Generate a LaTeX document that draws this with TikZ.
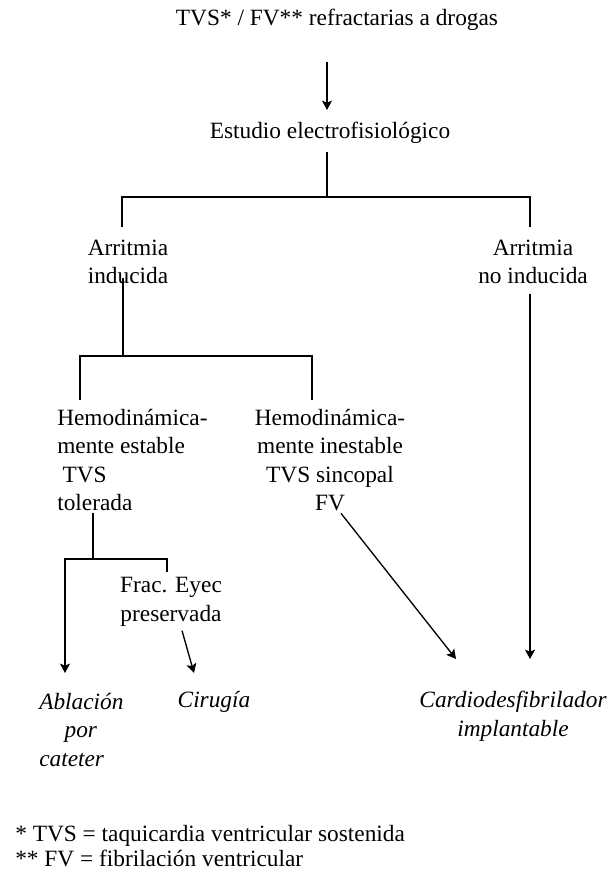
\documentclass[tikz,border=0pt]{standalone}
\usepackage{fontspec}
\setmainfont{Liberation Serif}
\usetikzlibrary{arrows.meta}
\usetikzlibrary{calc}

\tikzset{
  txt/.style={inner sep=0pt, align=center, font=\fontsize{17.5}{21.4}\selectfont},
  ital/.style={txt, font=\fontsize{17.5}{21.4}\selectfont\itshape},
  conn/.style={line width=1pt},
  arr/.style={conn, -{Stealth[length=7pt,width=7.5pt,inset=1.5pt]}},
}

\begin{document}
\begin{tikzpicture}[x=0.75pt,y=0.75pt,yscale=-1,xscale=1]
\useasboundingbox (0,0) rectangle (610,884);

% Text Node
\node[txt] (title) at (337,20) {TVS* / FV** refractarias a drogas};
% Text Node
\node[txt] (est) at (330,133) {Estudio electrofisiológico};
% Text Node
\node[txt] (ind) at (128,262) {Arritmia\\inducida};
% Text Node
\node[txt] (noind) at (533,262) {Arritmia\\no inducida};
% Text Node
\node[txt, anchor=west, align=left] (estable) at (57,460) {Hemodinámica-\\mente estable\\\hspace*{4pt}TVS\\tolerada};
% Text Node
\node[txt] (inestable) at (330,460) {Hemodinámica-\\mente inestable\\TVS sincopal\\FV};
% Text Node
\node[txt] (frac) at (171,602) {Frac. Eyec\\preservada};
% Text Node
\node[ital, anchor=west, align=left] (abl) at (39,730) {Ablación\\\hspace*{19pt}por\\cateter};
% Text Node
\node[ital] (cir) at (214,702) {Cirugía};
% Text Node
\node[ital] (cdi) at (513,716) {Cardiodesfibrilador\\implantable};
% Text Node
\node[txt, anchor=west, align=left, font=\fontsize{17.5}{19}\selectfont] (notas) at (15,846) {* TVS = taquicardia ventricular sostenida\\** FV = fibrilación ventricular};

% forks and free ends
\coordinate (f1) at (327,197);
\coordinate (f2) at (123,356);
\coordinate (f3) at (93,559);
\coordinate (d1) at (122,227);
\coordinate (d2) at (530,227);
\coordinate (d3) at (80,400);
\coordinate (d4) at (312,400);
\coordinate (d5) at (167,572);
\coordinate (t0) at (327,110);
\coordinate (t1) at (65,673);
\coordinate (t2) at (194,673);
\coordinate (t3) at (456,659);
\coordinate (t4) at (530,659);

%Straight Lines
\draw[arr] (title.south -| t0) ++(0,31) -- (t0);
\draw[conn] (est.south -| f1) ++(0,8) -- (f1);
\draw[conn] (d1) |- (f1) -| (d2);
\draw[conn] (ind.south -| f2) ++(0,-6) -- (f2);
\draw[conn] (d3) |- (f2) -| (d4);
\draw[conn] (estable.south -| f3) ++(0,2) -- (f3);
\draw[conn] (d5) |- (f3);
\draw[arr] (f3) -| (t1);
\draw[arr] ($(frac.south)+(11,4)$) -- (t2);
\draw[arr] ($(inestable.south)+(11,2)$) -- (t3);
\draw[arr] (noind.south -| t4) ++(0,10) -- (t4);

\end{tikzpicture}
\end{document}
